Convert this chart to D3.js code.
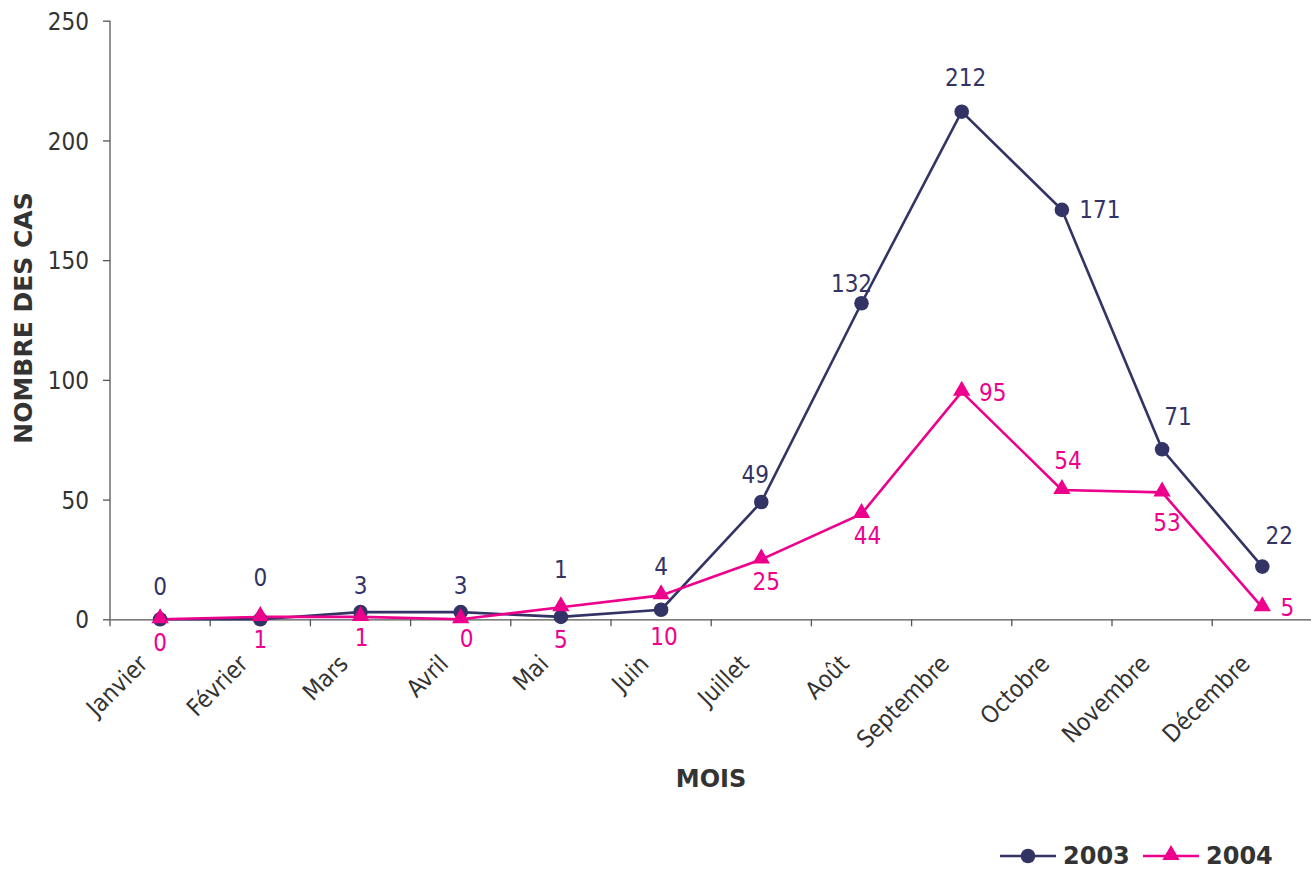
<!DOCTYPE html>
<html>
<head>
<meta charset="utf-8">
<script src="https://cdn.jsdelivr.net/npm/d3@7/dist/d3.min.js"></script>
<style>
  html, body { margin: 0; padding: 0; background: #fff; }
  svg { display: block; }
  .reg { font-family: "DejaVu Sans Condensed", "DejaVu Sans", sans-serif; font-stretch: condensed; }
  .bold { font-family: "DejaVu Sans", sans-serif; font-weight: bold; }
</style>
</head>
<body>
<svg id="chart" width="1311" height="869"></svg>
<script>
// ---- data ----
const months = ["Janvier", "Février", "Mars", "Avril", "Mai", "Juin", "Juillet", "Août", "Septembre", "Octobre", "Novembre", "Décembre"];
const cases2003 = [0, 0, 3, 3, 1, 4, 49, 132, 212, 171, 71, 22];
const cases2004 = [0, 1, 1, 0, 5, 10, 25, 44, 95, 54, 53, 5];
const yTicks = [0, 50, 100, 150, 200, 250];
const seriesNames = ["2003", "2004"];
const yTitle = "NOMBRE DES CAS";
const xTitle = "MOIS";

// data-label placement (offset from the point, px), layout only
const labelOffset2003 = [[0,-33],[0,-42],[0,-27],[0,-27],[0,-48],[0,-43],[-6,-28],[-10,-20],[4,-34],[38,0],[16,-33],[17,-31]];
const labelOffset2004 = [[0,23],[0,22],[1,20],[6,19],[0,32],[3,41],[5,22],[6,21],[31,1],[6,-30],[5,30],[25,0]];

// ---- layout ----
const navy = "#333366", pink = "#EC008C", textCol = "#333333", axisCol = "#555555";
const svg = d3.select("#chart");
const x = d3.scaleBand().domain(months).range([110, 1312.4]).padding(0);
const y = d3.scaleLinear().domain([0, 250]).range([619.3, 20.7]);
const cx = m => x(m) + x.bandwidth() / 2;

// y axis
const yAxis = svg.append("g").attr("transform", "translate(110,0)")
  .call(d3.axisLeft(y).tickValues(yTicks).tickSize(7).tickPadding(14).tickFormat(d3.format("d")));
yAxis.select(".domain").attr("stroke", axisCol).attr("stroke-width", 1.3).attr("d", `M0,${y(250)}V${y(0)}`);
yAxis.selectAll(".tick line").attr("stroke", axisCol).attr("stroke-width", 1.3);
yAxis.selectAll(".tick text").attr("class", "reg").attr("font-size", 24).attr("fill", textCol).attr("dy", "0.36em");

// x axis
const xAxis = svg.append("g").attr("transform", `translate(0,${y(0)})`)
  .call(d3.axisBottom(x).tickSize(0).tickFormat(""));
xAxis.select(".domain").attr("stroke", axisCol).attr("stroke-width", 1.3);
xAxis.selectAll(".tick").remove();
// tick marks at band boundaries
const bounds = months.map(m => x(m));
xAxis.selectAll("line.bt").data(bounds).join("line").attr("class", "bt")
  .attr("x1", d => d).attr("x2", d => d).attr("y1", 0).attr("y2", 7)
  .attr("stroke", axisCol).attr("stroke-width", 1.3);

// x tick labels rotated
svg.append("g").selectAll("text").data(months).join("text")
  .attr("class", "reg").attr("font-size", 24).attr("fill", textCol)
  .attr("text-anchor", "end")
  .attr("transform", d => `translate(${cx(d) - 11},${y(0) + 46}) rotate(-45)`)
  .text(d => d);

// titles
svg.append("text").attr("class", "bold").attr("font-size", 25).attr("fill", textCol)
  .attr("text-anchor", "middle")
  .attr("transform", `translate(32,318) rotate(-90)`).text(yTitle);
svg.append("text").attr("class", "bold").attr("font-size", 24).attr("fill", textCol)
  .attr("text-anchor", "middle").attr("x", 711).attr("y", 787).text(xTitle);

// lines
const line = d3.line().x((d, i) => cx(months[i])).y(d => y(d));
svg.append("path").datum(cases2003).attr("d", line).attr("fill", "none").attr("stroke", navy).attr("stroke-width", 2.6);
svg.append("path").datum(cases2004).attr("d", line).attr("fill", "none").attr("stroke", pink).attr("stroke-width", 2.6);

// markers
const tri = d3.symbol().type(d3.symbolTriangle).size(130);
svg.append("g").selectAll("circle").data(cases2003).join("circle")
  .attr("cx", (d, i) => cx(months[i])).attr("cy", d => y(d)).attr("r", 7.3).attr("fill", navy);
svg.append("g").selectAll("path").data(cases2004).join("path")
  .attr("d", tri).attr("fill", pink)
  .attr("transform", (d, i) => `translate(${cx(months[i])},${y(d) - 1})`);

// data labels
svg.append("g").selectAll("text").data(cases2003).join("text")
  .attr("class", "reg").attr("font-size", 24).attr("fill", navy).attr("text-anchor", "middle")
  .attr("x", (d, i) => cx(months[i]) + labelOffset2003[i][0])
  .attr("y", (d, i) => y(d) + labelOffset2003[i][1]).attr("dy", "0.36em").text(d => d);
svg.append("g").selectAll("text").data(cases2004).join("text")
  .attr("class", "reg").attr("font-size", 24).attr("fill", pink).attr("text-anchor", "middle")
  .attr("x", (d, i) => cx(months[i]) + labelOffset2004[i][0])
  .attr("y", (d, i) => y(d) + labelOffset2004[i][1]).attr("dy", "0.36em").text(d => d);

// legend
const lg = svg.append("g");
const legendItems = [
  {name: seriesNames[0], color: navy, x0: 1000, marker: "circle"},
  {name: seriesNames[1], color: pink, x0: 1143, marker: "tri"}
];
legendItems.forEach(it => {
  lg.append("line").attr("x1", it.x0).attr("x2", it.x0 + 56).attr("y1", 856).attr("y2", 856)
    .attr("stroke", it.color).attr("stroke-width", 2.6);
  if (it.marker === "circle") {
    lg.append("circle").attr("cx", it.x0 + 28).attr("cy", 856).attr("r", 7.3).attr("fill", it.color);
  } else {
    lg.append("path").attr("d", tri).attr("fill", it.color).attr("transform", `translate(${it.x0 + 28},855)`);
  }
  lg.append("text").attr("class", "bold").attr("font-size", 24).attr("fill", textCol)
    .attr("x", it.x0 + 63).attr("y", 864).text(it.name);
});
</script>
</body>
</html>
